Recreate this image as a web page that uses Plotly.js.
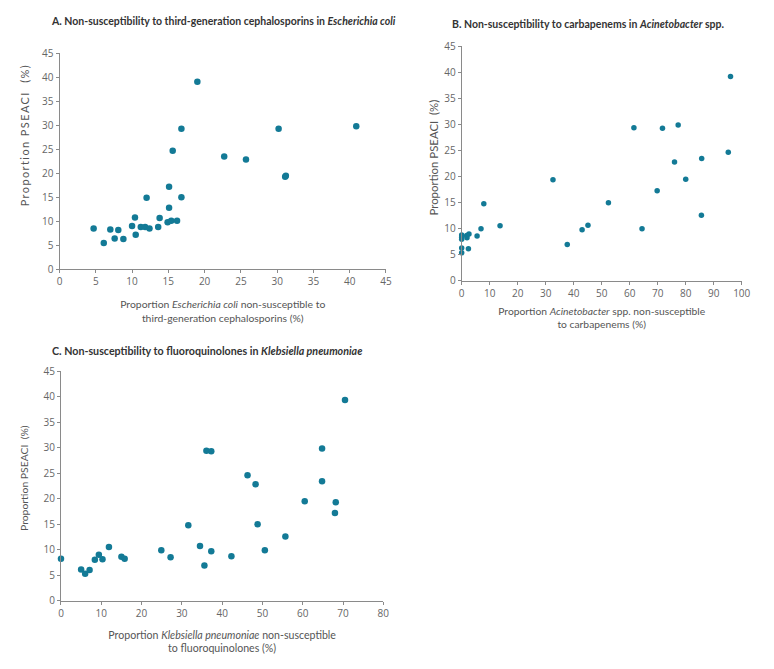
<!DOCTYPE html>
<html><head><meta charset="utf-8">
<script src="https://cdn.plot.ly/plotly-3.0.1.min.js"></script>
<style>html,body{margin:0;padding:0;background:#fff}#chart{width:774px;height:669px}</style>
</head><body><div id="chart"></div>
<script>
// Panel A: E. coli, 3rd-gen cephalosporins
const ecoliX = [4.7,6.1,7.0,7.6,8.1,8.8,10.0,10.4,10.5,11.2,11.8,12.0,12.4,13.6,13.8,14.9,15.1,15.1,15.4,15.6,16.2,16.8,16.8,19.0,22.7,25.7,30.2,31.1,31.2,40.9];
const ecoliY = [8.5,5.5,8.3,6.4,8.2,6.3,9.0,10.8,7.2,8.8,8.8,14.9,8.5,8.8,10.7,9.8,17.2,12.8,10.1,24.7,10.1,15.0,29.3,39.1,23.5,22.9,29.3,19.3,19.5,29.8];
// Panel B: Acinetobacter spp., carbapenems
const acinX = [0,0,0,0,0,0,1.8,1.9,2.4,2.6,5.5,6.9,7.9,13.7,32.6,37.7,43.0,45.1,52.4,61.5,64.4,69.8,71.7,76.0,77.3,80.0,85.6,85.7,95.2,96.0];
const acinY = [8.8,8.4,8.0,8.6,6.3,5.4,8.7,8.3,6.2,9.0,8.6,10.0,14.8,10.6,19.4,7.0,9.8,10.7,15.0,29.4,10.0,17.3,29.3,22.8,29.9,19.5,12.6,23.5,24.7,39.2];
// Panel C: K. pneumoniae, fluoroquinolones
const klebX = [0,5.0,6.0,7.1,8.4,9.4,10.3,11.9,15.0,15.8,24.9,27.2,31.6,34.5,35.6,36.1,37.3,37.3,42.3,46.3,48.3,48.8,50.6,55.7,60.5,64.8,64.8,68.0,68.2,70.5];
const klebY = [8.2,6.1,5.3,6.0,8.0,9.0,8.1,10.5,8.6,8.2,9.9,8.5,14.8,10.7,6.9,29.4,29.3,9.7,8.7,24.6,22.8,15.0,9.9,12.6,19.5,29.8,23.4,17.2,19.3,39.3];

const titles = [
  "<b>A. Non-susceptibility to third-generation cephalosporins in <i>Escherichia coli</i></b>",
  "<b>B. Non-susceptibility to carbapenems in <i>Acinetobacter</i> spp.</b>",
  "<b>C. Non-susceptibility to fluoroquinolones in <i>Klebsiella pneumoniae</i></b>"
];
const xTitles = [
  "Proportion <i>Escherichia coli</i> non-susceptible to<br>third-generation cephalosporins (%)",
  "Proportion <i>Acinetobacter</i> spp. non-susceptible<br>to carbapenems (%)",
  "Proportion <i>Klebsiella pneumoniae</i> non-susceptible<br>to fluoroquinolones (%)"
];
const yTitle = "Proportion PSEACI  (%)";

const col = "#137a96";
const font = "Lato, Open Sans, sans-serif";
const tfont = "Open Sans, sans-serif";
function mk(x,y,xa,ya,size){return {x:x,y:y,xaxis:xa,yaxis:ya,type:'scatter',mode:'markers',
  marker:{color:col,size:size},cliponaxis:false,hoverinfo:'x+y',showlegend:false};}

const data = [mk(ecoliX,ecoliY,'x','y',6.5), mk(acinX,acinY,'x2','y2',5.5), mk(klebX,klebY,'x3','y3',6.5)];

function xax(dom,range,dtick,title,anchor,fs,so){return {domain:dom,range:range,dtick:dtick,tick0:0,anchor:anchor,
  showgrid:false,zeroline:false,showline:true,linecolor:'#8a8a8a',linewidth:1,ticks:'outside',ticklen:3,tickcolor:'#8a8a8a',
  tickfont:{family:tfont,size:10,color:'#666'},
  title:{text:title,font:{family:font,size:fs,color:'#555'},standoff:so}};}
function yax(dom,anchor){return {domain:dom,range:[0,45],dtick:5,tick0:0,anchor:anchor,
  showgrid:false,zeroline:false,showline:true,linecolor:'#8a8a8a',linewidth:1,ticks:'outside',ticklen:3,tickcolor:'#8a8a8a',
  tickfont:{family:tfont,size:10,color:'#666'}};}

function ytl(x,y,fs){return {text:yTitle,xref:'paper',yref:'paper',x:x/774,y:1-y/669,textangle:-90,showarrow:false,
  xanchor:'center',yanchor:'middle',font:{family:font,size:fs,color:'#555'}};}
function ttl(t,x,y,fs){return {text:t,xref:'paper',yref:'paper',x:x/774,y:1-y/669,showarrow:false,
  xanchor:'center',yanchor:'middle',font:{family:font,size:fs,color:'#333'}};}

const layout = {
  width:774,height:669,margin:{l:0,r:0,t:0,b:0},paper_bgcolor:'#fff',plot_bgcolor:'#fff',
  font:{family:font},
  xaxis: xax([0.0769,0.4987],[0,45],5,xTitles[0],'y',10.4,13),
  yaxis: yax([0.5975,0.9203],'x'),
  xaxis2: xax([0.5965,0.9583],[0,100],10,xTitles[1],'y2',10.3,8),
  yaxis2: yax([0.58,0.9308],'x2'),
  xaxis3: xax([0.0788,0.4952],[0,80],10,xTitles[2],'y3',10.6,12),
  yaxis3: yax([0.1021,0.4454],'x3'),
  annotations:[
    ttl(titles[0],224,21,10.5),
    ttl(titles[1],588,24,10.5),
    ttl(titles[2],207,350,10.7),
    ytl(24,135,11),
    ytl(433,157.5,11.4),
    ytl(24,478,10.4)
  ]
};
Plotly.newPlot('chart',data,layout,{displayModeBar:false,staticPlot:true}).then(function(){
  var t = document.querySelector('g.annotation[data-index="3"] text');
  if (t) t.style.letterSpacing = '1.4px';
});
</script></body></html>
